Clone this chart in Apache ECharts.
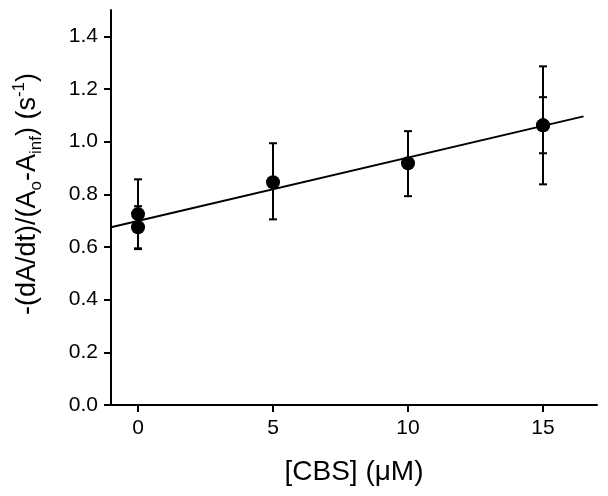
<!DOCTYPE html>
<html><head><meta charset="utf-8">
<script src="https://cdn.jsdelivr.net/npm/echarts@6/dist/echarts.min.js"></script>
<style>html,body{margin:0;padding:0;background:#fff}#c{width:608px;height:496px}</style>
</head><body><div id="c"></div>
<script>
// data
const conc = [0, 0, 5, 10, 15, 15];
const rate = [0.725, 0.675, 0.846, 0.918, 1.062, 1.062];
const errHi = [0.857, 0.755, 0.994, 1.04, 1.286, 1.169];
const errLo = [0.595, 0.592, 0.705, 0.793, 0.838, 0.956];
const fitX = [-1, 16.5];
const fitY = [0.675, 1.096];
const xTicks = [0, 5, 10, 15];
const yTicks = [0, 0.2, 0.4, 0.6, 0.8, 1.0, 1.2, 1.4];

const chart = echarts.init(document.getElementById('c'));
const F = '"Liberation Sans", Arial, sans-serif';
const scatterData = conc.map((x, i) => [x, rate[i]]);
const errData = conc.map((x, i) => [x, errLo[i], errHi[i]]);
const fitData = fitX.map((x, i) => [x, fitY[i]]);

chart.setOption({
  animation: false,
  backgroundColor: '#fff',
  grid: { left: 111, right: 11, top: 10, bottom: 91 },
  xAxis: {
    type: 'value', min: -1, max: 17,
    name: '[CBS] (μM)', nameLocation: 'middle', nameGap: 53,
    nameTextStyle: { fontFamily: F, fontSize: 28, color: '#000' },
    axisLine: { onZero: false, lineStyle: { color: '#000', width: 2 } },
    axisTick: { show: true, length: 7, lineStyle: { color: '#000', width: 2 }, customValues: xTicks },
    axisLabel: { fontFamily: F, fontSize: 21, color: '#000', margin: 13, customValues: xTicks },
    splitLine: { show: false }
  },
  yAxis: {
    type: 'value', min: 0, max: 1.5,
    axisLine: { onZero: false, lineStyle: { color: '#000', width: 2 } },
    axisTick: { show: true, length: 7, lineStyle: { color: '#000', width: 2 }, customValues: yTicks },
    axisLabel: { fontFamily: F, fontSize: 21, color: '#000', margin: 13, customValues: yTicks,
      formatter: v => v.toFixed(1) },
    splitLine: { show: false }
  },
  graphic: [{
    type: 'text', x: 28, y: 194, rotation: Math.PI / 2,
    style: {
      text: '{n|-(dA/dt)/(A}{s|o}{n|-A}{s|inf}{n|) (s}{p|-1}{n|)}',
      align: 'center', verticalAlign: 'middle',
      rich: {
        n: { fontFamily: F, fontSize: 27, fill: '#000', verticalAlign: 'middle' },
        s: { fontFamily: F, fontSize: 17, fill: '#000', padding: [17, 0, 0, 0], verticalAlign: 'middle' },
        p: { fontFamily: F, fontSize: 17, fill: '#000', padding: [0, 0, 17, 0], verticalAlign: 'middle' }
      }
    }
  }],
  series: [
    {
      type: 'line', data: fitData, symbol: 'none',
      lineStyle: { color: '#000', width: 2 }, z: 2
    },
    {
      type: 'custom', data: errData, z: 3,
      renderItem: (params, api) => {
        const x = api.value(0);
        const lo = api.coord([x, api.value(1)]);
        const hi = api.coord([x, api.value(2)]);
        const w = 4;
        const st = { stroke: '#000', lineWidth: 2 };
        return { type: 'group', children: [
          { type: 'line', shape: { x1: lo[0], y1: lo[1], x2: hi[0], y2: hi[1] }, style: st },
          { type: 'line', shape: { x1: lo[0] - w, y1: lo[1], x2: lo[0] + w, y2: lo[1] }, style: st },
          { type: 'line', shape: { x1: hi[0] - w, y1: hi[1], x2: hi[0] + w, y2: hi[1] }, style: st }
        ]};
      }
    },
    {
      type: 'scatter', data: scatterData, symbol: 'circle', symbolSize: 14,
      itemStyle: { color: '#000', opacity: 1 }, z: 4
    }
  ]
});
</script></body></html>
